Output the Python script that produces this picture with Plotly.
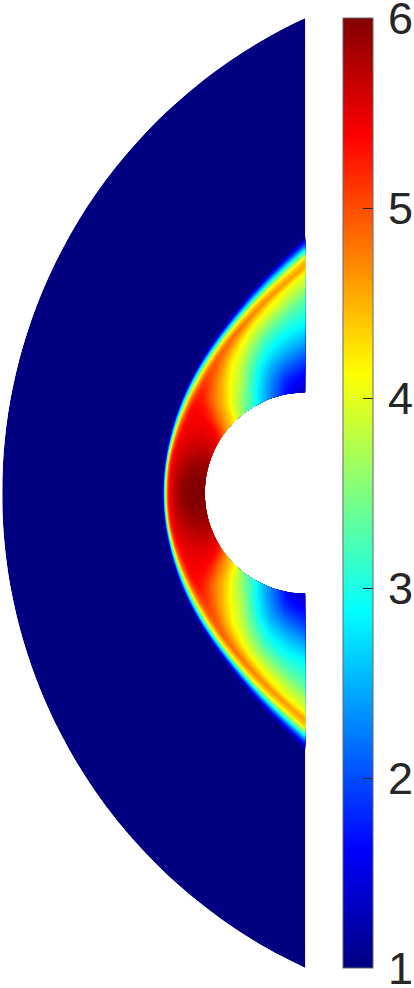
import numpy as np
import plotly.graph_objects as go

# angle from the nose (degrees), upper half; lower half is mirrored
ANGLES = list(range(0, 95, 5))
BODY_RADIUS = 100.5
SHOCK_RADIUS = [143.0, 143.3, 143.9, 144.9, 146.4, 148.4, 150.9, 153.9, 157.6, 161.9,
                167.1, 173.1, 180.2, 188.4, 198.0, 209.3, 222.5, 238.0, 256.5]
OUTER_RADIUS = [303.0, 303.7, 305.2, 307.7, 311.1, 315.6, 321.1, 327.7, 335.4, 344.1,
                354.1, 365.2, 377.5, 391.0, 405.7, 421.4, 438.4, 456.3, 475.0]

# stations across the shock layer, 0 = body, 1 = foot of the shock
STATIONS = [0, .1, .2, .3, .4, .5, .6, .7, .76, .81, .85, .88, .91, .94, .97, 1]

# one row per angle, one value per station
FIELD = [
    [6.00, 6.00, 6.00, 6.00, 5.98, 5.95, 5.85, 5.70, 5.60, 5.48, 5.25, 4.80, 4.10, 3.00, 1.60, 1],
    [5.98, 5.99, 5.99, 5.98, 5.95, 5.90, 5.82, 5.68, 5.58, 5.47, 5.25, 4.80, 4.10, 3.00, 1.60, 1],
    [5.92, 5.95, 5.95, 5.93, 5.88, 5.83, 5.75, 5.65, 5.56, 5.45, 5.25, 4.80, 4.10, 3.00, 1.60, 1],
    [5.85, 5.87, 5.87, 5.85, 5.80, 5.75, 5.68, 5.60, 5.53, 5.42, 5.20, 4.75, 4.05, 3.00, 1.60, 1],
    [5.72, 5.76, 5.76, 5.73, 5.68, 5.63, 5.58, 5.53, 5.45, 5.30, 5.05, 4.55, 3.85, 2.90, 1.60, 1],
    [5.60, 5.63, 5.63, 5.62, 5.60, 5.57, 5.52, 5.48, 5.40, 5.20, 4.90, 4.40, 3.70, 2.85, 1.60, 1],
    [5.40, 5.48, 5.50, 5.50, 5.50, 5.48, 5.46, 5.43, 5.35, 5.10, 4.80, 4.30, 3.60, 2.85, 1.70, 1],
    [4.95, 5.20, 5.33, 5.40, 5.42, 5.42, 5.42, 5.40, 5.32, 5.05, 4.70, 4.20, 3.55, 2.85, 1.80, 1],
    [4.55, 4.70, 4.85, 5.00, 5.15, 5.25, 5.30, 5.33, 5.25, 5.00, 4.60, 4.15, 3.50, 2.85, 1.80, 1],
    [4.20, 4.35, 4.50, 4.60, 4.72, 4.85, 5.05, 5.20, 5.15, 4.95, 4.55, 4.10, 3.45, 2.85, 1.80, 1],
    [3.75, 3.90, 4.05, 4.25, 4.45, 4.62, 4.80, 5.00, 5.05, 4.90, 4.50, 4.10, 3.40, 2.75, 1.70, 1],
    [3.30, 3.50, 3.70, 3.90, 4.07, 4.30, 4.55, 4.80, 4.95, 4.90, 4.50, 4.10, 3.35, 2.60, 1.60, 1],
    [3.00, 3.20, 3.40, 3.65, 3.85, 4.00, 4.20, 4.55, 4.80, 4.88, 4.50, 4.10, 3.30, 2.45, 1.50, 1],
    [2.60, 2.75, 2.95, 3.20, 3.45, 3.75, 4.00, 4.35, 4.65, 4.85, 4.50, 4.10, 3.25, 2.35, 1.40, 1],
    [2.25, 2.40, 2.60, 2.80, 3.10, 3.40, 3.75, 4.10, 4.50, 4.80, 4.45, 4.05, 3.20, 2.30, 1.45, 1],
    [1.95, 2.10, 2.30, 2.55, 2.85, 3.15, 3.55, 3.98, 4.35, 4.72, 4.45, 4.00, 3.15, 2.30, 1.50, 1],
    [1.60, 1.80, 2.10, 2.45, 2.75, 3.05, 3.45, 3.95, 4.20, 4.68, 4.40, 3.95, 3.10, 2.30, 1.55, 1],
    [1.42, 1.68, 2.00, 2.38, 2.72, 3.03, 3.38, 3.85, 4.08, 4.62, 4.35, 3.85, 3.05, 2.25, 1.55, 1],
    [1.30, 1.60, 1.95, 2.35, 2.75, 3.05, 3.35, 3.80, 4.05, 4.60, 4.40, 3.80, 3.00, 2.20, 1.60, 1],
]

COLORBAR_TICKS = [1, 2, 3, 4, 5, 6]
JET = [
    [0, "rgb(0,0,128)"],
    [0.125, "rgb(0,0,255)"],
    [0.375, "rgb(0,255,255)"],
    [0.625, "rgb(255,255,0)"],
    [0.875, "rgb(255,0,0)"],
    [1, "rgb(128,0,0)"],
]

# mirror the upper half on to the lower one
rows = list(range(len(ANGLES) - 1, 0, -1)) + list(range(len(ANGLES)))
b = [-ANGLES[i] for i in rows[: len(ANGLES) - 1]] + ANGLES
a = STATIONS + [1.5]

x, y, z = [], [], []
for row, angle in zip(rows, b):
    theta = np.radians(angle)
    radii = [BODY_RADIUS + s * (SHOCK_RADIUS[row] - BODY_RADIUS) for s in STATIONS]
    radii.append(OUTER_RADIUS[row])
    x.append([-r * np.cos(theta) for r in radii])
    y.append([r * np.sin(theta) for r in radii])
    z.append(FIELD[row] + [1])

fig = go.Figure()
fig.add_trace(
    go.Carpet(
        a=a,
        b=b,
        x=x,
        y=y,
        carpet="layer",
        aaxis=dict(smoothing=0, showgrid=False, showticklabels="none", startline=False, endline=False, minorgridcount=0),
        baxis=dict(smoothing=1, showgrid=False, showticklabels="none", startline=False, endline=False, minorgridcount=0),
    )
)
fig.add_trace(
    go.Contourcarpet(
        a=a,
        b=b,
        z=z,
        carpet="layer",
        autocontour=False,
        contours=dict(coloring="fill", start=1, end=6, size=0.04),
        line=dict(width=0),
        colorscale=JET,
        zmin=1,
        zmax=6,
        showscale=False,
    )
)
# the colour bar hangs on a marker trace so that it stays a smooth ramp
fig.add_trace(
    go.Scatter(
        x=[None, None],
        y=[None, None],
        mode="markers",
        hoverinfo="skip",
        marker=dict(
            color=[1, 6],
            cmin=1,
            cmax=6,
            colorscale=JET,
            showscale=True,
            colorbar=dict(
                x=343 / 414,
                xanchor="left",
                xpad=0,
                y=20 / 988,
                yanchor="bottom",
                ypad=0,
                len=950 / 988,
                thickness=30,
                outlinecolor="#666666",
                outlinewidth=1,
                tickmode="array",
                tickvals=COLORBAR_TICKS,
                ticktext=[f"<span style='font-size:18px'>\u00a0</span>{t}" for t in COLORBAR_TICKS],
                ticks="inside",
                ticklen=10,
                tickcolor="#262626",
                ticklabeloverflow="allow",
                tickfont=dict(family="Liberation Sans", size=45, color="#262626"),
            ),
        ),
    )
)
fig.update_xaxes(range=[-305.3, 108.7], visible=False)
fig.update_yaxes(range=[-495, 493], visible=False)
fig.update_layout(
    width=414,
    height=988,
    margin=dict(l=0, r=0, t=0, b=0, autoexpand=False),
    plot_bgcolor="white",
    paper_bgcolor="white",
    showlegend=False,
)
fig.write_html(
    "out.html",
    config={"displayModeBar": False},
    post_script="document.body.style.margin = '0';",
)
